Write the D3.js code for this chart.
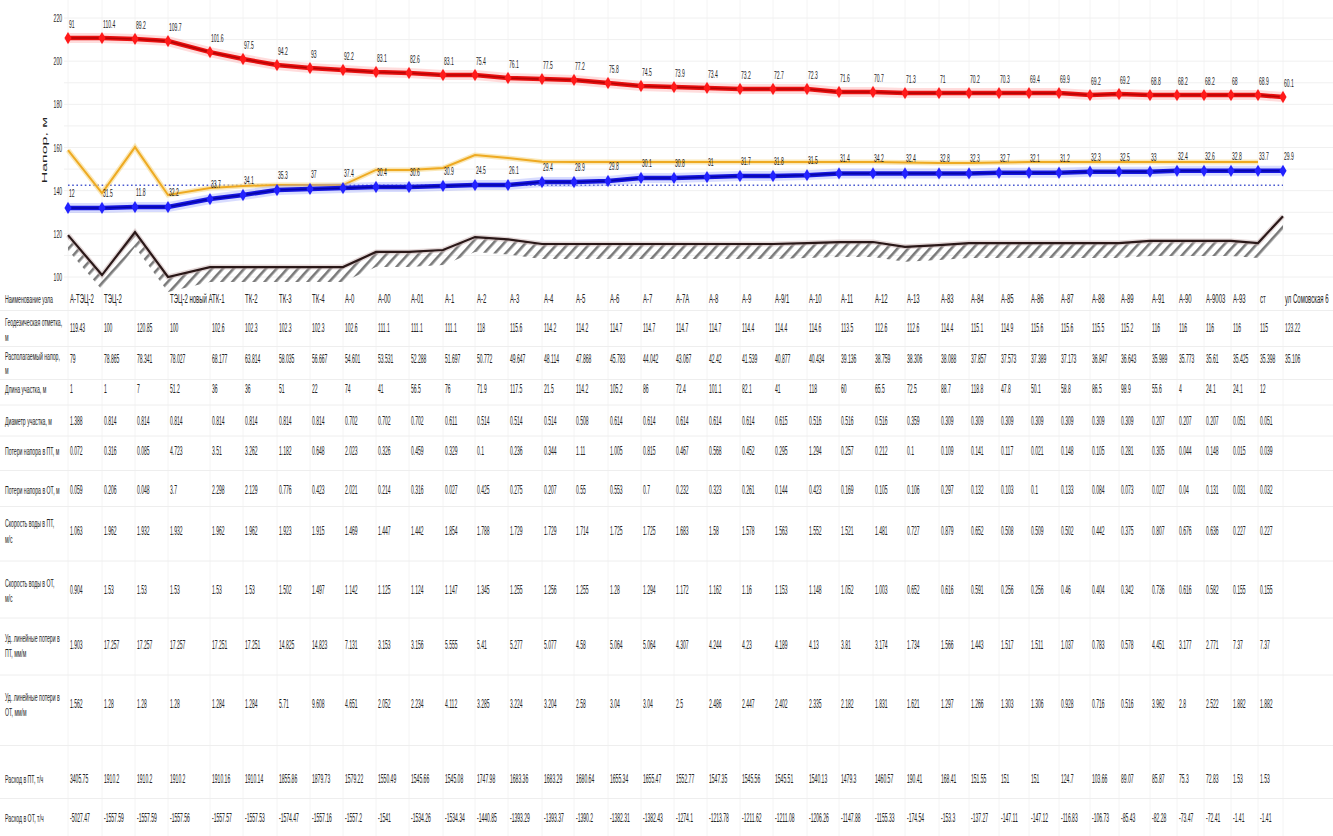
<!DOCTYPE html>
<html>
<head>
<meta charset="utf-8">
<script src="https://cdn.jsdelivr.net/npm/d3@7/dist/d3.min.js"></script>
<style>
body { margin: 0; background: #fff; }
svg { display: block; }
text { font-family: "Liberation Sans", Arial, sans-serif; fill: #222; }
</style>
</head>
<body>
<svg width="1333" height="836"></svg>
<script>
// node names (table header row)
var nodes = ["А-ТЭЦ-2","ТЭЦ-2","","ТЭЦ-2 новый А","ТК-1","ТК-2","ТК-3","ТК-4","А-0","А-00","А-01","А-1",
  "А-2","А-3","А-4","А-5","А-6","А-7","А-7А","А-8","А-9","А-9/1","А-10","А-11","А-12",
  "А-13","А-83","А-84","А-85","А-86","А-87","А-88","А-89","А-91","А-90","А-9003","А-93","ст","ул Сомовская 6"];

// heads, m
var ground = [119.4,100.9,120.8,100,104.6,104.6,104.6,104.6,104.6,111.6,111.6,112.5,
  118.5,117.4,115.3,115.3,115.3,115.3,115.3,115.3,115.3,115.3,115.7,116.2,116.2,
  114,114.8,115.7,115.7,115.7,115.7,115.7,115.7,116.7,116.7,116.7,116.7,115.7,128.2];
var supply = [210.7,210.7,210.3,209.3,204.2,201.0,198.2,196.8,195.9,195.0,194.5,193.6,
  193.6,192.2,191.7,191.3,189.9,188.5,188.0,187.6,187.1,187.1,187.1,185.7,185.7,
  185.2,185.2,185.2,185.2,185.2,185.2,184.3,184.8,184.3,184.3,184.3,184.3,184.3,183.4];
var ret = [132.0,132.0,132.4,132.4,136.1,138.0,140.3,140.8,141.2,141.7,141.7,142.2,
  142.6,142.6,144.0,144.0,144.5,145.9,145.9,146.3,146.8,146.8,147.2,148.0,148.0,
  148.0,148.0,148.0,148.3,148.3,148.3,148.8,148.8,148.8,149.2,149.2,149.2,149.2,149.2];
var orange = [158.8,138.9,160.2,138.0,141.2,142.2,142.6,142.6,142.6,149.6,149.6,150.5,
  156.5,155.1,153.4,153.3,153.3,153.3,153.3,153.3,153.3,153.3,153.3,153.3,153.3,
  153.0,152.8,152.8,153.0,153.3,153.3,153.3,153.3,153.3,153.3,153.3,153.3,153.3];
var staticHead = 142.5;

var supplyLbl = [91,110.4,89.2,109.7,101.6,97.5,94.2,93,92.2,83.1,82.6,83.1,
  75.4,76.1,77.5,77.2,75.8,74.5,73.9,73.4,73.2,72.7,72.3,71.6,70.7,
  71.3,71,70.2,70.3,69.4,69.9,69.2,69.2,68.8,68.2,68.2,68,68.9,60.1];
var retLbl = [12,31.5,11.8,32.2,33.7,34.1,35.3,37,37.4,30.4,30.6,30.9,
  24.5,26.1,29.4,28.9,29.8,30.1,30.8,31,31.7,31.8,31.5,31.4,34.2,
  32.4,32.8,32.3,32.7,32.1,31.2,32.3,32.5,33,32.4,32.6,32.8,33.7,29.9];

var yTicks = [220,200,180,160,140,120,100];

// table rows
var geo = [119.43,100,120.85,100,102.6,102.3,102.3,102.3,102.6,111.1,111.1,111.1,
  118,115.6,114.2,114.2,114.7,114.7,114.7,114.7,114.4,114.4,114.6,113.5,112.6,
  112.6,114.4,115.1,114.9,115.6,115.6,115.5,115.2,116,116,116,116,115,123.22];
var avail = [79,78.865,78.341,78.027,68.177,63.814,58.035,56.667,54.601,53.531,52.288,51.697,
  50.772,49.647,48.114,47.868,45.783,44.042,43.067,42.42,41.539,40.877,40.434,39.136,38.759,
  38.306,38.088,37.857,37.573,37.389,37.173,36.847,36.643,35.989,35.773,35.61,35.425,35.398,35.106];
var len = [1,1,7,51.2,36,36,51,22,74,41,56.5,76,
  71.9,117.5,21.5,114.2,105.2,86,72.4,101.1,82.1,41,118,60,65.5,
  72.5,88.7,118.8,47.8,50.1,58.8,86.5,98.9,55.6,4,24.1,24.1,12];
var diam = [1.388,0.814,0.814,0.814,0.814,0.814,0.814,0.814,0.702,0.702,0.702,0.611,
  0.514,0.514,0.514,0.508,0.614,0.614,0.614,0.614,0.614,0.615,0.516,0.516,0.516,
  0.359,0.309,0.309,0.309,0.309,0.309,0.309,0.309,0.207,0.207,0.207,0.051,0.051];
var lossS = [0.072,0.316,0.085,4.723,3.51,3.262,1.182,0.648,2.023,0.326,0.459,0.329,
  0.1,0.236,0.344,1.11,1.005,0.815,0.467,0.568,0.452,0.295,1.294,0.257,0.212,
  0.1,0.109,0.141,0.117,0.021,0.148,0.105,0.281,0.305,0.044,0.148,0.015,0.039];
var lossR = [0.059,0.206,0.048,3.7,2.298,2.129,0.776,0.423,2.021,0.214,0.316,0.027,
  0.425,0.275,0.207,0.55,0.553,0.7,0.232,0.323,0.261,0.144,0.423,0.169,0.105,
  0.106,0.297,0.132,0.103,0.1,0.133,0.084,0.073,0.027,0.04,0.131,0.031,0.032];
var velS = [1.063,1.962,1.932,1.932,1.962,1.962,1.923,1.915,1.469,1.447,1.442,1.854,
  1.788,1.729,1.729,1.714,1.725,1.725,1.683,1.58,1.578,1.563,1.552,1.521,1.481,
  0.727,0.879,0.652,0.508,0.509,0.502,0.442,0.375,0.807,0.676,0.636,0.227,0.227];
var velR = [0.904,1.53,1.53,1.53,1.53,1.53,1.502,1.497,1.142,1.125,1.124,1.147,
  1.345,1.255,1.256,1.255,1.28,1.294,1.172,1.162,1.16,1.153,1.148,1.052,1.003,
  0.652,0.616,0.591,0.256,0.256,0.46,0.404,0.342,0.736,0.616,0.582,0.155,0.155];
var udS = [1.903,17.257,17.257,17.257,17.251,17.251,14.825,14.823,7.131,3.153,3.156,5.555,
  5.41,5.277,5.077,4.58,5.064,5.064,4.307,4.244,4.23,4.189,4.13,3.81,3.174,
  1.734,1.566,1.443,1.517,1.511,1.037,0.783,0.578,4.451,3.177,2.771,7.37,7.37];
var udR = [1.562,1.28,1.28,1.28,1.284,1.284,5.71,9.608,4.651,2.052,2.234,4.112,
  3.285,3.224,3.204,2.58,3.04,3.04,2.5,2.486,2.447,2.402,2.335,2.182,1.831,
  1.621,1.297,1.266,1.303,1.306,0.928,0.716,0.516,3.962,2.8,2.522,1.882,1.882];
var flowS = [3405.75,1910.2,1910.2,1910.2,1910.16,1910.14,1855.86,1879.73,1579.22,1550.49,1545.66,1545.08,
  1747.98,1683.36,1683.29,1680.64,1655.34,1655.47,1552.77,1547.35,1545.56,1545.51,1540.13,1479.3,1460.57,
  190.41,168.41,151.55,151,151,124.7,103.66,89.07,85.87,75.3,72.83,1.53,1.53];
var flowR = [-5027.47,-1557.59,-1557.59,-1557.56,-1557.57,-1557.53,-1574.47,-1557.16,-1557.2,-1541,-1534.26,-1534.34,
  -1440.85,-1393.29,-1393.37,-1390.2,-1382.31,-1382.43,-1274.1,-1213.78,-1211.62,-1211.08,-1206.26,-1147.88,-1155.33,
  -174.54,-153.3,-137.27,-147.11,-147.12,-116.83,-106.73,-85.43,-82.28,-73.47,-72.41,-1.41,-1.41];

// layout: column positions follow the table column widths
var colX = [68,102,135,168,210,243,277,310,343,376,409,443,475,508,542,574,608,641,674,707,740,773,807,839,873,
  905,939,969,999,1029,1059,1090,1119,1150,1177,1204,1231,1258,1283];

var rows = [
  {lab:["Наименование узла"], ly:[299], vy:299, vals:nodes},
  {lab:["Геодезическая отметка,","м"], ly:[322,337], vy:328, vals:geo},
  {lab:["Располагаемый напор,","м"], ly:[356,370], vy:359, vals:avail},
  {lab:["Длина участка, м"], ly:[389], vy:389, vals:len},
  {lab:["Диаметр участка, м"], ly:[421], vy:421, vals:diam},
  {lab:["Потери напора в ПТ, м"], ly:[451], vy:451, vals:lossS},
  {lab:["Потери напора в ОТ, м"], ly:[490], vy:490, vals:lossR},
  {lab:["Скорость воды в ПТ,","м/с"], ly:[523,539], vy:531, vals:velS},
  {lab:["Скорость воды в ОТ,","м/с"], ly:[583,598], vy:590, vals:velR},
  {lab:["Уд. линейные потери в","ПТ, мм/м"], ly:[638,653], vy:645, vals:udS},
  {lab:["Уд. линейные потери в","ОТ, мм/м"], ly:[697,712], vy:704, vals:udR},
  {lab:["Расход в ПТ, т/ч"], ly:[779], vy:779, vals:flowS},
  {lab:["Расход в ОТ, т/ч"], ly:[818], vy:818, vals:flowR}
];

var svg = d3.select("svg");
var x = d3.scaleOrdinal().domain(d3.range(nodes.length)).range(colX);
var y = d3.scaleLinear().domain([100, 220]).range([277, 18]);

// squeezed text like the original picture
function sq(g, txt, px, py, size, k, anchor) {
  return g.append("text")
    .attr("transform", "translate(" + px + "," + py + ") scale(" + k + ",1)")
    .attr("font-size", size)
    .attr("text-anchor", anchor || "start")
    .text(txt);
}

var defs = svg.append("defs");
defs.append("pattern")
  .attr("id", "hatch").attr("patternUnits", "userSpaceOnUse")
  .attr("width", 8).attr("height", 8)
  .attr("patternTransform", "rotate(42)")
  .append("rect").attr("x", 0).attr("y", 0).attr("width", 2.6).attr("height", 8)
  .attr("fill", "#7a7a7a");

// faint grid
var grid = svg.append("g");
grid.selectAll(".vg").data(colX).enter().append("line")
  .attr("x1", function(d) { return d; }).attr("x2", function(d) { return d; })
  .attr("y1", 0).attr("y2", 836)
  .attr("stroke", "#f4f4f4");
grid.selectAll(".hg").data(d3.range(100, 221, 10)).enter().append("line")
  .attr("x1", 64).attr("x2", 1333)
  .attr("y1", function(d) { return y(d); }).attr("y2", function(d) { return y(d); })
  .attr("stroke", "#f0f0f0");

// y axis labels
var ax = svg.append("g");
yTicks.forEach(function(t) { sq(ax, t, 62, y(t) + 4, 11, 0.46, "end"); });
ax.append("text")
  .attr("transform", "translate(47,150) rotate(-90) scale(1,0.5)")
  .attr("font-size", 16).attr("text-anchor", "middle")
  .text("Напор, м");

// ground with hatch
var gArea = d3.area()
  .x(function(d, i) { return x(i); })
  .y0(function(d) { return y(d) + 15; })
  .y1(function(d) { return y(d); });
svg.append("path").datum(ground).attr("d", gArea).attr("fill", "url(#hatch)");
var line = d3.line().x(function(d, i) { return x(i); }).y(function(d) { return y(d); });
svg.append("path").datum(ground).attr("d", line)
  .attr("fill", "none").attr("stroke", "#c8b0b0").attr("stroke-width", 5).attr("opacity", 0.5);
svg.append("path").datum(ground).attr("d", line)
  .attr("fill", "none").attr("stroke", "#2a1818").attr("stroke-width", 2.2);

// static head (dotted)
svg.append("line")
  .attr("x1", x(0)).attr("x2", x(nodes.length - 1))
  .attr("y1", y(staticHead)).attr("y2", y(staticHead))
  .attr("stroke", "#4a5ad0").attr("stroke-width", 1.6).attr("stroke-dasharray", "1.6,2.6");

// orange line
svg.append("path").datum(orange).attr("d", line)
  .attr("fill", "none").attr("stroke", "#f7d98a").attr("stroke-width", 5).attr("opacity", 0.6);
svg.append("path").datum(orange).attr("d", line)
  .attr("fill", "none").attr("stroke", "#eeaa22").attr("stroke-width", 2);

function drawHead(data, halo, main, core, mark) {
  svg.append("path").datum(data).attr("d", line)
    .attr("fill", "none").attr("stroke", halo).attr("stroke-width", 10).attr("opacity", 0.35);
  svg.append("path").datum(data).attr("d", line)
    .attr("fill", "none").attr("stroke", main).attr("stroke-width", 4.5);
  svg.append("path").datum(data).attr("d", line)
    .attr("fill", "none").attr("stroke", core).attr("stroke-width", 1.6).attr("opacity", 0.7);
  svg.selectAll(null).data(data).enter().append("path")
    .attr("d", d3.symbol().type(d3.symbolDiamond).size(44))
    .attr("transform", function(d, i) { return "translate(" + x(i) + "," + y(d) + ")"; })
    .attr("fill", mark);
}
drawHead(ret, "#8f9cff", "#1515e0", "#000090", "#2222ff");
drawHead(supply, "#ff9a9a", "#ea1010", "#a00000", "#ff1a1a");

// point labels
var lb = svg.append("g");
supplyLbl.forEach(function(v, i) { sq(lb, v, x(i) + 1, y(supply[i]) - 10, 11, 0.46); });
retLbl.forEach(function(v, i) { sq(lb, v, x(i) + 1, y(ret[i]) - 11, 11, 0.46); });

// table
var tb = svg.append("g");
rows.forEach(function(r, k) {
  if (k > 0) {
    var yy = (rows[k - 1].ly[rows[k - 1].ly.length - 1] + r.ly[0]) / 2;
    tb.append("line").attr("x1", 0).attr("x2", 1333).attr("y1", yy).attr("y2", yy)
      .attr("stroke", "#eeeeee");
  }
  r.lab.forEach(function(t, j) { sq(tb, t, 5, r.ly[j] + 4, 11, 0.47).attr("fill", "#333"); });
  r.vals.forEach(function(v, i) {
    if (v === "") return;
    sq(tb, v, x(i) + 2, r.vy + 4, 12, k == 0 ? 0.5 : 0.42).attr("fill", "#1a1a1a");
  });
});
</script>
</body>
</html>
